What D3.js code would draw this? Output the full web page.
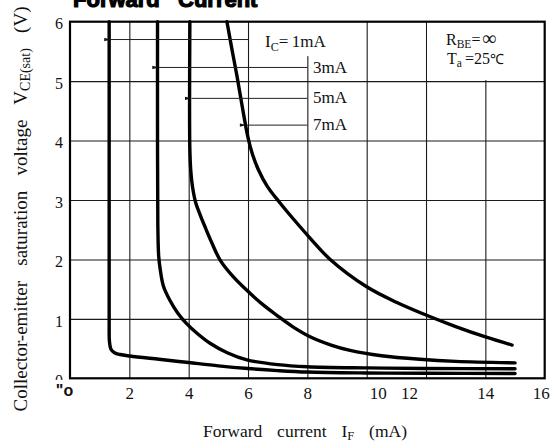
<!DOCTYPE html>
<html><head><meta charset="utf-8">
<script src="https://cdn.jsdelivr.net/npm/d3@7"></script>
<style>
html,body{margin:0;padding:0;background:#fff;}
svg{display:block;}
</style></head><body>
<svg id="chart" width="551" height="445"></svg>
<script>
// Axis ticks
const xTickValues = [0, 2, 4, 6, 8, 10, 12, 14, 16];
const xTickLabels = ['"o', '2', '4', '6', '8', '10', '12', '14', '16'];
const yTickValues = [0, 1, 2, 3, 4, 5, 6];
const yTickLabels = ['0', '1', '2', '3', '4', '5', '6'];

// Collector current series, [I_F (mA), V_CE(sat) (V)]
const seriesNames = ["1mA", "3mA", "5mA", "7mA"];
const curve1mA = [[1.32,6.0],[1.32,4.0],[1.32,2.0],[1.32,0.9],[1.33,0.62],[1.38,0.49],[1.50,0.43],[1.69,0.40],[2.02,0.375],[3.0,0.32],[4.0,0.265],[5.0,0.21],[6.0,0.165],[7.0,0.13],[8.0,0.105],[10.0,0.09],[12.0,0.085],[15.0,0.08]];
const curve3mA = [[2.95,6.0],[2.95,4.0],[2.96,2.6],[2.99,2.05],[3.05,1.80],[3.15,1.55],[3.37,1.31],[3.63,1.10],[3.93,0.92],[4.30,0.75],[4.72,0.59],[5.30,0.43],[5.96,0.31],[7.0,0.23],[8.0,0.195],[10.0,0.175],[12.0,0.165],[15.0,0.16]];
const curve5mA = [[4.04,6.0],[4.03,4.6],[4.04,3.85],[4.07,3.5],[4.13,3.22],[4.24,2.95],[4.38,2.76],[4.55,2.55],[4.78,2.28],[5.06,1.99],[5.5,1.71],[5.96,1.48],[6.45,1.26],[6.97,1.06],[7.5,0.87],[8.09,0.70],[8.8,0.56],[9.44,0.47],[10.5,0.38],[11.79,0.32],[13.0,0.285],[15.0,0.26]];
const curve7mA = [[5.29,6.0],[5.46,5.53],[5.63,5.08],[5.82,4.53],[6.0,4.05],[6.15,3.77],[6.35,3.51],[6.65,3.23],[7.08,2.95],[7.53,2.68],[8.09,2.36],[8.77,2.0],[10.0,1.54],[11.0,1.28],[12.02,1.06],[13.0,0.87],[13.98,0.70],[14.9,0.56]];
const seriesValues = [curve1mA, curve3mA, curve5mA, curve7mA];

// Leader lines from the labels to each curve (value units)
const leaderY = [5.70, 5.23, 4.71, 4.26];
const leaderFrom = [1.38, 3.0, 4.1, 5.95];
const leaderTo = [6.0, 8.0, 8.0, 8.0];

const SERIF = "'Liberation Serif', 'Times New Roman', serif";
const SANS = "'Liberation Sans', Arial, sans-serif";

const svg = d3.select("#chart");
const x = d3.scaleLinear().domain([0, 16]).range([70, 544.7]);
const y = d3.scaleLinear().domain([0, 6]).range([378.3, 21.7]);
const plotH = y(0) - y(6), plotW = x(16) - x(0);

// Grid
svg.append("g").attr("transform", `translate(0,${y(0)})`)
  .call(d3.axisBottom(x).tickValues([2,4,6,8,10,12,14]).tickSize(-plotH).tickFormat(""))
  .call(g => g.select(".domain").remove())
  .selectAll("line").attr("stroke", "#1a1a1a").attr("stroke-width", 1.1);
svg.append("g").attr("transform", `translate(${x(0)},0)`)
  .call(d3.axisLeft(y).tickValues([1,2,3,4,5]).tickSize(-plotW).tickFormat(""))
  .call(g => g.select(".domain").remove())
  .selectAll("line").attr("stroke", "#1a1a1a").attr("stroke-width", 1.1);

// Blank panels behind the annotations
svg.append("rect").attr("x", x(6) + 2).attr("y", y(6)).attr("width", x(9) - x(6)).attr("height", y(5.42) - y(6)).attr("fill", "#fff");
svg.append("rect").attr("x", x(12) + 1).attr("y", y(6)).attr("width", x(16) - x(12) - 1).attr("height", y(5) - y(6) - 1).attr("fill", "#fff");

// Frame
svg.append("rect").attr("x", x(0)).attr("y", y(6)).attr("width", plotW).attr("height", plotH)
  .attr("fill", "none").attr("stroke", "#000").attr("stroke-width", 2.2);

// Curves
const line = d3.line().x(d => x(d[0])).y(d => y(d[1])).curve(d3.curveCatmullRom.alpha(0.5));
svg.append("g").selectAll("path").data(seriesValues).join("path")
  .attr("d", line).attr("fill", "none").attr("stroke", "#000")
  .attr("stroke-width", 3.4).attr("stroke-linecap", "round").attr("stroke-linejoin", "round");

// Leader lines with arrowheads
svg.append("defs").append("marker").attr("id", "arrow")
  .attr("viewBox", "0 0 10 6").attr("refX", 0).attr("refY", 3)
  .attr("markerWidth", 8).attr("markerHeight", 4).attr("orient", "auto-start-reverse")
  .attr("markerUnits", "userSpaceOnUse")
  .append("path").attr("d", "M0,3 L10,0.5 L10,5.5 Z").attr("fill", "#111");
svg.append("g").selectAll("line").data(seriesNames).join("line")
  .attr("x1", (d, i) => x(leaderFrom[i])).attr("x2", (d, i) => x(leaderTo[i]))
  .attr("y1", (d, i) => y(leaderY[i])).attr("y2", (d, i) => y(leaderY[i]))
  .attr("stroke", "#222").attr("stroke-width", 1)
  .attr("marker-start", "url(#arrow)");

// Series labels
const lab0 = svg.append("text").style("font-family", SERIF).attr("fill", "#111")
  .attr("x", 265).attr("y", 46.5).attr("font-size", 17);
lab0.append("tspan").text("I");
lab0.append("tspan").attr("font-size", 12).attr("dy", 4).text("C");
lab0.append("tspan").attr("dy", -4).text("=\u2009" + seriesNames[0]);
svg.append("g").selectAll("text").data(seriesNames.slice(1)).join("text")
  .style("font-family", SERIF).attr("fill", "#111").attr("font-size", 17)
  .attr("x", 313).attr("y", (d, i) => [73, 103, 130][i]).text(d => d);

// Conditions
const c1 = svg.append("text").style("font-family", SERIF).attr("fill", "#111")
  .attr("x", 446).attr("y", 45).attr("font-size", 16);
c1.append("tspan").text("R");
c1.append("tspan").attr("font-size", 11.5).attr("dy", 3).text("BE");
c1.append("tspan").attr("dy", -3).text("=");
c1.append("tspan").attr("font-size", 20).attr("dx", 1.5).text("\u221E");
const c2 = svg.append("text").style("font-family", SERIF).attr("fill", "#111")
  .attr("x", 447).attr("y", 63.5).attr("font-size", 16);
c2.append("tspan").text("T");
c2.append("tspan").attr("font-size", 11.5).attr("dy", 3).text("a");
c2.append("tspan").attr("dy", -3).attr("dx", 3).text("=25");
c2.append("tspan").attr("font-size", 14).text("\u2103");

// Y tick labels
const yAxisG = svg.append("g").attr("transform", `translate(${x(0)},0)`)
  .call(d3.axisLeft(y).tickValues(yTickValues).tickFormat((d, i) => yTickLabels[i]).tickSize(0).tickPadding(7));
yAxisG.select(".domain").remove();
yAxisG.selectAll("text").style("font-family", SERIF).attr("fill", "#111").attr("font-size", 16).attr("dy", "0.45em");

// X tick labels
svg.append("rect").attr("x", 44).attr("y", y(0) + 1.5).attr("width", 24).attr("height", 10).attr("fill", "#fff");
const xNudge = {0: -6, 10: 11, 12: -17, 16: -4};
const xAxisG = svg.append("g").attr("transform", `translate(0,${y(0)})`)
  .call(d3.axisBottom(x).tickValues(xTickValues).tickFormat((d, i) => xTickLabels[i]).tickSize(0));
xAxisG.select(".domain").remove();
xAxisG.selectAll("text")
  .style("font-family", SERIF).attr("fill", "#111").attr("font-size", 17).attr("y", 21).attr("dy", 0)
  .attr("x", d => xNudge[d] || 0);
xAxisG.selectAll("text").filter(d => d === 0)
  .attr("y", 18).style("font-family", SANS).style("font-weight", "bold").attr("font-size", 16);

// Axis titles, spaced out to their printed widths
function spreadTo(sel, target) {
  const len = sel.node().getComputedTextLength();
  const spaces = (sel.text().match(/ /g) || []).length;
  if (spaces && target > len) sel.attr("word-spacing", (target - len) / spaces);
}
const yt = svg.append("text").style("font-family", SERIF).attr("fill", "#111").attr("font-size", 19)
  .attr("text-anchor", "middle").attr("transform", "translate(27,209) rotate(-90)");
yt.append("tspan").text("Collector-emitter saturation voltage V");
yt.append("tspan").attr("font-size", 14).attr("dy", 3).text("CE(sat)");
yt.append("tspan").attr("dy", -3).text(" (V)");
spreadTo(yt, 405);

const xt = svg.append("text").style("font-family", SERIF).attr("fill", "#111").attr("font-size", 17.5)
  .attr("text-anchor", "middle").attr("x", 305).attr("y", 437);
xt.append("tspan").text("Forward current I");
xt.append("tspan").attr("font-size", 12.5).attr("dy", 3).text("F");
xt.append("tspan").attr("dy", -3).text(" (mA)");
spreadTo(xt, 204);

// Title (top edge runs off the page)
const title = svg.append("g").style("font-family", SANS)
  .style("font-weight", "bold").attr("font-size", 22).attr("fill", "#000")
  .attr("stroke", "#000").attr("stroke-width", 1.2);
title.append("text").attr("x", 73).attr("y", 6.5).text("Forward");
title.append("text").attr("x", 178).attr("y", 6.5).text("Current");
</script>
</body></html>
